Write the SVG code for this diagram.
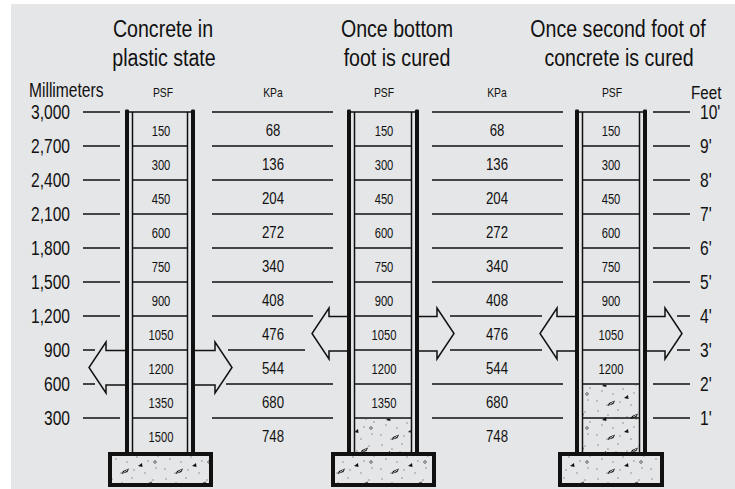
<svg xmlns="http://www.w3.org/2000/svg" width="735" height="489" viewBox="0 0 735 489">
<defs>
<style>
.t{font-family:"Liberation Sans",Arial,sans-serif;fill:#111}
.title{font-size:24.5px;text-anchor:middle}
.ax{font-size:19.5px}
.axr{font-size:19.5px;text-anchor:end}
.hd{font-size:13px;text-anchor:middle}
.psf{font-size:14px;text-anchor:middle}
.kpa{font-size:16.5px;text-anchor:middle}
.lvl{stroke:#111;stroke-width:1.5;fill:none}
.thin{stroke:#111;stroke-width:1.5;fill:none}
.wall{fill:#111}
.arrow{fill:#e5e6e7;stroke:#111;stroke-width:1.5;stroke-linejoin:miter}
.footing{fill:url(#concrete);stroke:#111;stroke-width:4}
.mix{fill:url(#concrete)}
</style>
<!-- stippled concrete: fine sand dots with a few dark aggregate chips -->
<pattern id="concrete" patternUnits="userSpaceOnUse" width="54" height="34">
<rect width="54" height="34" fill="#e5e6e7"/>
<g fill="#8a8a8a">
<circle cx="4" cy="3" r="0.8"/><circle cx="14" cy="7" r="0.8"/><circle cx="24" cy="2" r="0.8"/>
<circle cx="33" cy="9" r="0.8"/><circle cx="45" cy="4" r="0.8"/><circle cx="50" cy="14" r="0.8"/>
<circle cx="8" cy="17" r="0.8"/><circle cx="19" cy="20" r="0.8"/><circle cx="29" cy="15" r="0.8"/>
<circle cx="40" cy="19" r="0.8"/><circle cx="3" cy="27" r="0.8"/><circle cx="13" cy="31" r="0.8"/>
<circle cx="26" cy="28" r="0.8"/><circle cx="37" cy="31" r="0.8"/><circle cx="48" cy="26" r="0.8"/>
<circle cx="22" cy="10" r="0.8"/><circle cx="42" cy="11" r="0.8"/>
</g>
<g fill="#111">
<polygon points="8,12 12,9 12.5,13"/>
<polygon points="30,24 34,21 34.5,25"/>
<polygon points="38,8 44,5.5 42.5,9 36.5,11"/>
<polygon points="15,29 21,26.5 19.5,30 13.5,32"/>
</g>
<g stroke="#fff" stroke-width="0.8">
<line x1="38.5" y1="9.5" x2="42.5" y2="7"/>
<line x1="15.5" y1="30.5" x2="19.5" y2="28"/>
</g>
<circle cx="47" cy="20" r="1.3" fill="none" stroke="#333" stroke-width="0.7"/>
</pattern>
</defs>

<!-- sheet -->
<rect width="735" height="489" fill="#fff"/>
<rect x="11" y="4" width="724" height="485" fill="#e5e6e7"/>

<!-- level lines -->
<g id="levels" class="lvl">
<path d="M83,112H120M83,146H120M83,180H120M83,214H120M83,248H120M83,282H120M83,316H120M83,350H95M83,384H95M83,418H120"/>
<path d="M212,112H333M212,146H333M212,180H333M212,214H333M212,248H333M212,282H333M212,316H313M228,350H305M226,384H333M212,418H333"/>
<path d="M432,112H563M432,146H563M432,180H563M432,214H563M432,248H563M432,282H563M450,316H542M450,350H542M432,384H563M432,418H563"/>
<path d="M653,112H690M653,146H690M653,180H690M653,214H690M653,248H690M653,282H690M677,316H690M677,350H690M653,384H690M653,418H690"/>
</g>

<!-- all lettering is set condensed: x positions below are in the 0.8-wide text space -->
<g transform="scale(0.8,1)">
<g id="titles" class="t title">
<text x="203.75" y="37">Concrete in</text>
<text x="205" y="66">plastic state</text>
<text x="496.25" y="37">Once bottom</text>
<text x="496.25" y="66">foot is cured</text>
<text x="772.5" y="37">Once second foot of</text>
<text x="773.75" y="66">concrete is cured</text>
</g>
<g id="scale-mm" class="t">
<text x="36.25" y="97" style="font-size:19.5px">Millimeters</text>
<g class="axr">
<text x="87.5" y="119">3,000</text>
<text x="87.5" y="153">2,700</text>
<text x="87.5" y="187">2,400</text>
<text x="87.5" y="221">2,100</text>
<text x="87.5" y="255">1,800</text>
<text x="87.5" y="289">1,500</text>
<text x="87.5" y="323">1,200</text>
<text x="87.5" y="357">900</text>
<text x="87.5" y="391">600</text>
<text x="87.5" y="425">300</text>
</g>
</g>
<g id="scale-ft" class="t">
<text x="863.75" y="99" style="font-size:19px">Feet</text>
<g class="ax">
<text x="875" y="119">10'</text>
<text x="875" y="153">9'</text>
<text x="875" y="187">8'</text>
<text x="875" y="221">7'</text>
<text x="875" y="255">6'</text>
<text x="875" y="289">5'</text>
<text x="875" y="323">4'</text>
<text x="875" y="357">3'</text>
<text x="875" y="391">2'</text>
<text x="875" y="425">1'</text>
</g>
</g>
<g id="headers" class="t hd">
<text x="203.75" y="97">PSF</text>
<text x="341.25" y="97">KPa</text>
<text x="480" y="97">PSF</text>
<text x="621.25" y="97">KPa</text>
<text x="765" y="97">PSF</text>
</g>
<g id="kpa-1" class="t kpa">
<text x="341.25" y="136">68</text><text x="341.25" y="170">136</text><text x="341.25" y="204">204</text>
<text x="341.25" y="238">272</text><text x="341.25" y="272">340</text><text x="341.25" y="306">408</text>
<text x="341.25" y="340">476</text><text x="341.25" y="374">544</text><text x="341.25" y="408">680</text>
<text x="341.25" y="442">748</text>
</g>
<g id="kpa-2" class="t kpa">
<text x="621.25" y="136">68</text><text x="621.25" y="170">136</text><text x="621.25" y="204">204</text>
<text x="621.25" y="238">272</text><text x="621.25" y="272">340</text><text x="621.25" y="306">408</text>
<text x="621.25" y="340">476</text><text x="621.25" y="374">544</text><text x="621.25" y="408">680</text>
<text x="621.25" y="442">748</text>
</g>
<g id="psf-1" class="t psf">
<text x="201.25" y="136">150</text><text x="201.25" y="170">300</text><text x="201.25" y="204">450</text>
<text x="201.25" y="238">600</text><text x="201.25" y="272">750</text><text x="201.25" y="306">900</text>
<text x="201.25" y="340">1050</text><text x="201.25" y="374">1200</text><text x="201.25" y="408">1350</text>
<text x="201.25" y="442">1500</text>
</g>
<g id="psf-2" class="t psf">
<text x="480" y="136">150</text><text x="480" y="170">300</text><text x="480" y="204">450</text>
<text x="480" y="238">600</text><text x="480" y="272">750</text><text x="480" y="306">900</text>
<text x="480" y="340">1050</text><text x="480" y="374">1200</text><text x="480" y="408">1350</text>
</g>
<g id="psf-3" class="t psf">
<text x="763.75" y="136">150</text><text x="763.75" y="170">300</text><text x="763.75" y="204">450</text>
<text x="763.75" y="238">600</text><text x="763.75" y="272">750</text><text x="763.75" y="306">900</text>
<text x="763.75" y="340">1050</text><text x="763.75" y="374">1200</text>
</g>
</g>

<!-- form 1: concrete in plastic state -->
<g id="form-1">
<rect class="wall" x="125" y="109.5" width="4" height="343" rx="1.2"/>
<rect class="wall" x="191" y="109.5" width="4" height="343" rx="1.2"/>
<path class="thin" d="M132.5,112V452M187.5,112V452"/>
<path class="thin" d="M129,112H191M132.5,146H187.5M132.5,180H187.5M132.5,214H187.5M132.5,248H187.5M132.5,282H187.5M132.5,316H187.5M132.5,350H187.5M132.5,384H187.5M132.5,418H187.5"/>
<rect class="footing" x="110" y="454" width="101" height="31"/>
<path class="arrow" d="M125,350.5H106V342L89,367.5L106,393V385H125"/>
<path class="arrow" d="M195,350.5H215V342L232,367.5L215,393V385H195"/>
</g>

<!-- form 2: bottom foot cured -->
<g id="form-2">
<rect class="wall" x="347" y="109.5" width="4" height="343" rx="1.2"/>
<rect class="wall" x="415" y="109.5" width="4" height="343" rx="1.2"/>
<rect class="mix" x="355.25" y="418.75" width="55.5" height="33.25"/>
<path class="thin" d="M354.5,112V452M411.5,112V452"/>
<path class="thin" d="M351,112H415M354.5,146H411.5M354.5,180H411.5M354.5,214H411.5M354.5,248H411.5M354.5,282H411.5M354.5,316H411.5M354.5,350H411.5M354.5,384H411.5M354.5,418H411.5"/>
<rect class="footing" x="333" y="454" width="101" height="31"/>
<path class="arrow" d="M347,316.5H329V308L312,333.5L329,359V351H347"/>
<path class="arrow" d="M419,316.5H437V308L454,333.5L437,359V351H419"/>
</g>

<!-- form 3: second foot cured -->
<g id="form-3">
<rect class="wall" x="575" y="109.5" width="4" height="343" rx="1.2"/>
<rect class="wall" x="643" y="109.5" width="4" height="343" rx="1.2"/>
<rect class="mix" x="583.25" y="384.75" width="55.5" height="67.25"/>
<path class="thin" d="M582.5,112V452M639.5,112V452"/>
<path class="thin" d="M579,112H643M582.5,146H639.5M582.5,180H639.5M582.5,214H639.5M582.5,248H639.5M582.5,282H639.5M582.5,316H639.5M582.5,350H639.5M582.5,384H639.5M582.5,418H639.5"/>
<rect class="footing" x="560" y="454" width="102" height="31"/>
<path class="arrow" d="M575,316.5H557V308L540,333.5L557,359V351H575"/>
<path class="arrow" d="M647,316.5H665V308L682,333.5L665,359V351H647"/>
</g>
</svg>
